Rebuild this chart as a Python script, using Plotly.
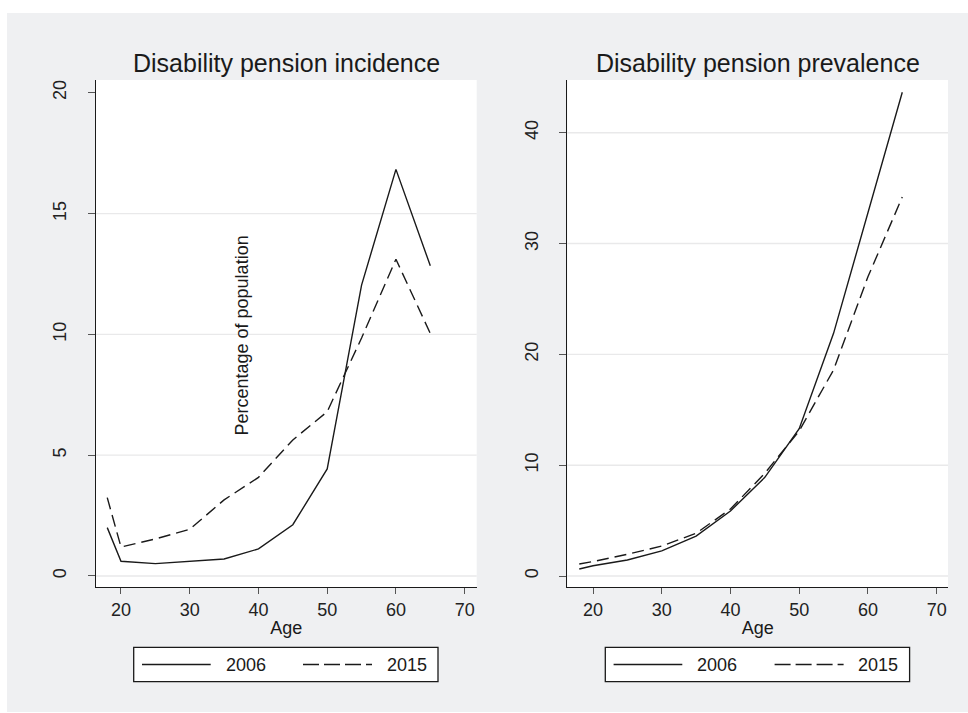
import plotly.graph_objects as go

# Age groups and rates (% of population)
ages = [18, 20, 25, 30, 35, 40, 45, 50, 55, 60, 65]
incidence_2006 = [2.0, 0.61, 0.51, 0.60, 0.70, 1.12, 2.12, 4.43, 12.04, 16.83, 12.84]
incidence_2015 = [3.24, 1.20, 1.53, 1.93, 3.15, 4.08, 5.63, 6.80, 9.85, 13.11, 10.04]
prevalence_2006 = [0.63, 0.92, 1.44, 2.26, 3.60, 5.87, 8.90, 13.30, 21.9, 32.9, 43.65]
prevalence_2015 = [1.08, 1.30, 1.96, 2.70, 3.85, 6.05, 9.27, 13.10, 18.6, 27.0, 34.2]

years = ["2006", "2015"]
panel_titles = ["Disability pension incidence", "Disability pension prevalence"]
x_ticks = [20, 30, 40, 50, 60, 70]
incidence_ticks = [0, 5, 10, 15, 20]
prevalence_ticks = [0, 10, 20, 30, 40]
incidence_grid = [0, 5, 10, 15]
prevalence_grid = [0, 10, 20, 30, 40]

W, H = 968, 713
BG = "#eff0f2"
INK = "#1a1a1a"
GRID = "#e9e9ea"
FONT = "Liberation Sans, Arial, sans-serif"


def px_x(v):
    return v / W


def px_y(v):
    return 1 - v / H


fig = go.Figure()

panels = [
    dict(xa="x", ya="y", dom=(95.7, 476.7), yr=(-0.47, 20.53), xr=(16.32, 71.75),
         series=(incidence_2006, incidence_2015), ticks=incidence_ticks, grid=incidence_grid),
    dict(xa="x2", ya="y2", dom=(567.3, 948.0), yr=(-1.02, 44.76), xr=(16.26, 71.65),
         series=(prevalence_2006, prevalence_2015), ticks=prevalence_ticks, grid=prevalence_grid),
]

styles = [dict(dash="solid"), dict(dash="12px,6px")]

top_px, bottom_px = 80.0, 587.3

shapes = []
annotations = []

# grey page frame
shapes.append(dict(type="rect", xref="paper", yref="paper", layer="below",
                   x0=px_x(7), x1=1.0, y0=px_y(712), y1=px_y(13),
                   fillcolor=BG, line=dict(width=0)))

for i, p in enumerate(panels):
    for yvals, year, st in zip(p["series"], years, styles):
        fig.add_trace(go.Scatter(
            x=ages, y=yvals, mode="lines", name=year, showlegend=False,
            xaxis=p["xa"], yaxis=p["ya"],
            line=dict(color=INK, width=1.4, dash=st["dash"]),
        ))
    suffix = "" if i == 0 else "2"
    x0, x1 = p["dom"]
    # plot region background
    shapes.append(dict(type="rect", xref="paper", yref="paper", layer="below",
                       x0=px_x(x0), x1=px_x(x1), y0=px_y(bottom_px), y1=px_y(top_px),
                       fillcolor="white", line=dict(width=0)))
    # horizontal grid lines
    for g in p["grid"]:
        shapes.append(dict(type="line", xref=f"x{suffix} domain", yref=f"y{suffix}",
                           x0=0, x1=1, y0=g, y1=g, layer="below",
                           line=dict(color=GRID, width=1.4)))
    # panel title
    annotations.append(dict(text=panel_titles[i], xref="paper", yref="paper",
                            x=px_x((x0 + x1) / 2), y=px_y(63), xanchor="center",
                            yanchor="middle", showarrow=False,
                            font=dict(size=25, color=INK, family=FONT)))
    # legend box
    lx0 = x0 + 38.0
    lx1 = lx0 + 304.3
    shapes.append(dict(type="rect", xref="paper", yref="paper",
                       x0=px_x(lx0), x1=px_x(lx1), y0=px_y(681.7), y1=px_y(647.3),
                       fillcolor="white", line=dict(color=INK, width=1.3)))
    ly = px_y(664.5)
    shapes.append(dict(type="line", xref="paper", yref="paper",
                       x0=px_x(lx0 + 8.3), x1=px_x(lx0 + 77), y0=ly, y1=ly,
                       line=dict(color=INK, width=1.4)))
    shapes.append(dict(type="line", xref="paper", yref="paper",
                       x0=px_x(lx0 + 169.3), x1=px_x(lx0 + 238.3), y0=ly, y1=ly,
                       line=dict(color=INK, width=1.4, dash="16px,5px")))
    for txt, cx in zip(years, (lx0 + 112, lx0 + 273)):
        annotations.append(dict(text=txt, xref="paper", yref="paper", x=px_x(cx), y=ly,
                                xanchor="center", yanchor="middle", showarrow=False,
                                font=dict(size=18, color=INK, family=FONT)))

    axis_common = dict(showline=True, linecolor=INK, linewidth=1.3, mirror=False,
                       ticks="outside", tickcolor="#555555", tickwidth=1.3,
                       tickfont=dict(size=18, color="#222222", family=FONT),
                       zeroline=False, showgrid=False)
    fig.update_layout(**{
        f"xaxis{suffix}": dict(domain=[px_x(x0), px_x(x1)], range=list(p["xr"]),
                              tickvals=x_ticks, ticklen=6, anchor=f"y{suffix}",
                              title=dict(text="Age", standoff=2,
                                         font=dict(size=18, color=INK, family=FONT)),
                              **axis_common),
        f"yaxis{suffix}": dict(domain=[px_y(bottom_px), px_y(top_px)], range=list(p["yr"]),
                              tickvals=p["ticks"], ticklen=7, tickangle=-90,
                              ticklabelstandoff=14, anchor=f"x{suffix}",
                              **axis_common),
    })

annotations.append(dict(text="Percentage of population", xref="paper", yref="paper",
                        x=px_x(241.5), y=px_y(336), xanchor="center", yanchor="middle",
                        textangle=-90, showarrow=False,
                        font=dict(size=18, color=INK, family=FONT)))

fig.update_layout(
    width=W, height=H,
    margin=dict(l=0, r=0, t=0, b=0),
    paper_bgcolor="white", plot_bgcolor="rgba(0,0,0,0)",
    shapes=shapes, annotations=annotations,
    font=dict(family=FONT, color=INK),
)

fig.write_html("out.html")
